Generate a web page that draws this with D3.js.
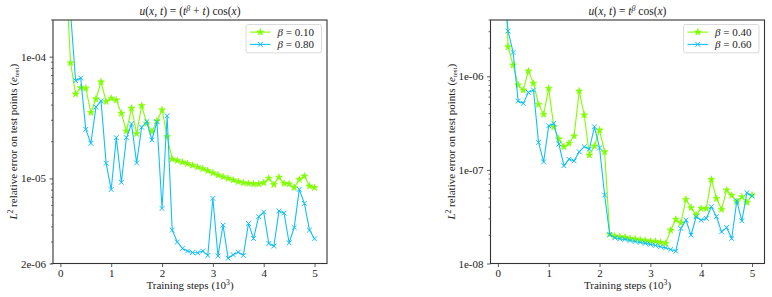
<!DOCTYPE html>
<html>
<head>
<meta charset="utf-8">
<script src="https://cdn.jsdelivr.net/npm/d3@7"></script>
<style>
  body { margin: 0; background: #fff; }
  svg { display: block; }
  text { font-family: "Liberation Serif", "DejaVu Serif", serif; fill: #222; }
</style>
</head>
<body>
<svg id="chart" width="772" height="297"></svg>
<script>
// ---- data ----
const steps = [0.1,0.2,0.3,0.4,0.5,0.6,0.7,0.8,0.9,1.0,
               1.1,1.2,1.3,1.4,1.5,1.6,1.7,1.8,1.9,2.0,
               2.1,2.2,2.3,2.4,2.5,2.6,2.7,2.8,2.9,3.0,
               3.1,3.2,3.3,3.4,3.5,3.6,3.7,3.8,3.9,4.0,
               4.1,4.2,4.3,4.4,4.5,4.6,4.7,4.8,4.9,5.0];
const xTicks = [0, 1, 2, 3, 4, 5];

// left panel: u = (t^beta + t) cos(x)
const leftBeta010 = [5.8e-4,8.9e-5,4.93e-5,5.56e-5,5.5e-5,3.47e-5,4.49e-5,6.2e-5,4.27e-5,4.55e-5,
                     4.4e-5,3.42e-5,2.45e-5,3.77e-5,2.33e-5,3.96e-5,2.83e-5,2.42e-5,2.96e-5,3.65e-5,
                     2.2e-5,1.44e-5,1.40e-5,1.36e-5,1.32e-5,1.28e-5,1.24e-5,1.20e-5,1.156e-5,1.11e-5,
                     1.065e-5,1.03e-5,1.0e-5,9.7e-6,9.4e-6,9.2e-6,9.1e-6,9.0e-6,9.0e-6,9.2e-6,
                     1.0e-5,8.9e-6,1.02e-5,9.1e-6,9.0e-6,8.4e-6,9.8e-6,1.045e-5,8.65e-6,8.4e-6];
const leftBeta080 = [6e-4,2.3e-4,6.35e-5,6.68e-5,2.53e-5,1.94e-5,3.85e-5,4.33e-5,1.33e-5,8.1e-6,
                     2.16e-5,9.3e-6,2.16e-5,2.8e-5,1.34e-5,2.63e-5,2.92e-5,2.07e-5,2.92e-5,5.66e-6,
                     3.27e-5,3.76e-6,3.0e-6,2.66e-6,2.53e-6,2.46e-6,2.45e-6,2.53e-6,2.33e-6,6.85e-6,
                     2.30e-6,4.13e-6,2.21e-6,2.36e-6,2.48e-6,2.33e-6,4.27e-6,3.21e-6,4.84e-6,5.29e-6,
                     2.92e-6,2.78e-6,5.39e-6,5.19e-6,2.96e-6,3.95e-6,8.12e-6,6.23e-6,3.76e-6,3.19e-6];
const leftYTicks = [2e-6, 1e-5, 1e-4];
const leftYTickLabels = ["2e-06", "1e-05", "1e-04"];
const leftYDomain = [2e-6, 2e-4];

// right panel: u = t^beta cos(x)
const rightBeta040 = [5e-5,2.07e-6,1.32e-6,8.07e-7,7.14e-7,1.14e-6,8.41e-7,5.01e-7,3.92e-7,7.43e-7,
                      2.89e-7,2.14e-7,1.77e-7,1.92e-7,2.30e-7,6.96e-7,3.86e-7,1.44e-7,1.80e-7,2.67e-7,
                      1.56e-7,2.05e-8,1.96e-8,1.93e-8,1.90e-8,1.85e-8,1.82e-8,1.79e-8,1.76e-8,1.73e-8,
                      1.72e-8,1.68e-8,1.64e-8,2.27e-8,2.96e-8,2.72e-8,4.84e-8,3.94e-8,3.3e-8,3.87e-8,
                      3.87e-8,7.91e-8,4.95e-8,3.78e-8,6.08e-8,5.34e-8,4.57e-8,5.16e-8,4.49e-8,5.38e-8];
const rightBeta060 = [1.4e-5,3.05e-6,1.80e-6,5.44e-7,5.14e-7,6.74e-7,7.14e-7,1.97e-7,1.22e-7,2.96e-7,
                      3.14e-7,1.89e-7,1.11e-7,1.30e-7,1.25e-7,1.56e-7,1.77e-7,1.67e-7,2.89e-7,1.72e-7,
                      5.38e-8,2.04e-8,1.88e-8,1.84e-8,1.81e-8,1.76e-8,1.72e-8,1.68e-8,1.64e-8,1.60e-8,
                      1.56e-8,1.51e-8,1.47e-8,1.41e-8,1.355e-8,2.37e-8,2.91e-8,2.01e-8,3.16e-8,2.91e-8,
                      3.03e-8,4.04e-8,3.16e-8,2.18e-8,2.43e-8,1.85e-8,4.68e-8,2.86e-8,5.70e-8,5.25e-8];
const rightYTicks = [1e-8, 1e-7, 1e-6];
const rightYTickLabels = ["1e-08", "1e-07", "1e-06"];
const rightYDomain = [1e-8, 4e-6];

const GREEN = "#7fff00";
const BLUE = "#12c0f7";

// ---- drawing ----
const svg = d3.select("#chart");
const FS = 11;
const FONT = "Liberation Serif";

function drawPanel(cfg) {
  const {x0, x1, y0, y1} = cfg;
  const g = svg.append("g");
  const x = d3.scaleLinear().domain([-0.145, 5.245]).range([x0, x1]);
  const y = d3.scaleLog().domain(cfg.yDomain).range([y1, y0]);

  const clipId = "clip" + cfg.id;
  svg.append("clipPath").attr("id", clipId)
    .append("rect").attr("x", x0).attr("y", y0).attr("width", x1 - x0).attr("height", y1 - y0);

  // minor y ticks
  const [lo, hi] = cfg.yDomain;
  const minor = [];
  for (let e = Math.floor(Math.log10(lo)); e <= Math.ceil(Math.log10(hi)); e++) {
    for (let m = 2; m < 10; m++) {
      const v = m * Math.pow(10, e);
      if (v >= lo * 0.9999 && v <= hi * 1.0001) minor.push(v);
    }
  }
  g.selectAll(".minor").data(minor).join("line")
    .attr("x1", x0 - 2).attr("x2", x0)
    .attr("y1", d => y(d)).attr("y2", d => y(d))
    .attr("stroke", "#333").attr("stroke-width", 0.7);

  // y axis
  const yAxis = d3.axisLeft(y).tickValues(cfg.yTicks)
    .tickFormat((d, i) => cfg.yTickLabels[i]).tickSize(3.5).tickPadding(3.5);
  const ya = g.append("g").attr("transform", `translate(${x0},0)`).call(yAxis);
  ya.attr("font-family", FONT);
  ya.select(".domain").remove();
  ya.selectAll("line").attr("stroke", "#333").attr("stroke-width", 0.8);
  ya.selectAll("text").attr("font-size", FS).attr("fill", "#222");

  // x axis
  const xAxis = d3.axisBottom(x).tickValues(xTicks).tickFormat(d3.format("d")).tickSize(3.5).tickPadding(2.5);
  const xa = g.append("g").attr("transform", `translate(0,${y1})`).call(xAxis);
  xa.attr("font-family", FONT);
  xa.select(".domain").remove();
  xa.selectAll("line").attr("stroke", "#333").attr("stroke-width", 0.8);
  xa.selectAll("text").attr("font-size", FS).attr("fill", "#222");

  // series
  const series = [
    {vals: cfg.s1, color: GREEN, marker: "star", label: cfg.l1},
    {vals: cfg.s2, color: BLUE, marker: "x", label: cfg.l2}
  ];
  const line = d3.line().x(d => x(d[0])).y(d => y(d[1]));
  const plot = g.append("g").attr("clip-path", `url(#${clipId})`);
  const starPath = d3.symbol().type(d3.symbolStar).size(15)();
  function drawMarker(sel, type, color) {
    if (type === "star") {
      sel.append("path").attr("d", starPath).attr("fill", color).attr("stroke", color).attr("stroke-width", 0.6);
    } else {
      const r = 2.4;
      sel.append("path").attr("d", `M${-r},${-r}L${r},${r}M${-r},${r}L${r},${-r}`)
        .attr("stroke", color).attr("stroke-width", 1.0).attr("fill", "none");
    }
  }
  series.forEach(s => {
    const pts = steps.map((t, i) => [t, s.vals[i]]);
    plot.append("path").datum(pts).attr("d", line)
      .attr("fill", "none").attr("stroke", s.color).attr("stroke-width", 1.1);
    plot.selectAll(null).data(pts).join("g")
      .attr("transform", d => `translate(${x(d[0])},${y(d[1])})`)
      .each(function() { drawMarker(d3.select(this), s.marker, s.color); });
  });

  // frame
  g.append("rect").attr("x", x0).attr("y", y0).attr("width", x1 - x0).attr("height", y1 - y0)
    .attr("fill", "none").attr("stroke", "#333").attr("stroke-width", 1.1);

  // title
  const t = g.append("text").attr("x", (x0 + x1) / 2).attr("y", 15)
    .attr("text-anchor", "middle").attr("font-size", FS + 0.5);
  cfg.title(t);

  // x label
  const xl = g.append("text").attr("x", (x0 + x1) / 2).attr("y", 289)
    .attr("text-anchor", "middle").attr("font-size", FS);
  xl.append("tspan").text("Training steps (10");
  xl.append("tspan").attr("font-size", FS * 0.7).attr("dy", -4).text("3");
  xl.append("tspan").attr("dy", 4).text(")");

  // y label
  const yl = g.append("text")
    .attr("transform", `translate(${cfg.ylx},${(y0 + y1) / 2}) rotate(-90)`)
    .attr("text-anchor", "middle").attr("font-size", FS);
  yl.append("tspan").attr("font-style", "italic").text("L");
  yl.append("tspan").attr("font-size", FS * 0.7).attr("dy", -4).text("2");
  yl.append("tspan").attr("dy", 4).text(" relative error on test points (");
  yl.append("tspan").attr("font-style", "italic").text("e");
  yl.append("tspan").attr("font-size", FS * 0.62).attr("dy", 2).text("test");
  yl.append("tspan").attr("dy", -2).text(")");

  // legend
  const lg = g.append("g").attr("transform", `translate(${cfg.legX},${y0 + 4.5})`);
  lg.append("rect").attr("width", 75.5).attr("height", 28.3).attr("rx", 2)
    .attr("fill", "#fff").attr("fill-opacity", 0.8).attr("stroke", "#d0d0d0").attr("stroke-width", 0.8);
  series.forEach((s, i) => {
    const yy = 7.6 + i * 12.3;
    lg.append("line").attr("x1", 4).attr("x2", 24.5).attr("y1", yy).attr("y2", yy)
      .attr("stroke", s.color).attr("stroke-width", 1.1);
    const mg = lg.append("g").attr("transform", `translate(14.3,${yy})`);
    drawMarker(mg, s.marker, s.color);
    const tx = lg.append("text").attr("x", 31.5).attr("y", yy + 3.6).attr("font-size", FS);
    tx.append("tspan").attr("font-style", "italic").text("β");
    tx.append("tspan").text(" = " + s.label);
  });
}

function mathTitleLeft(t) {
  t.append("tspan").attr("font-style", "italic").text("u");
  t.append("tspan").text("(");
  t.append("tspan").attr("font-style", "italic").text("x, t");
  t.append("tspan").text(") = (");
  t.append("tspan").attr("font-style", "italic").text("t");
  t.append("tspan").attr("font-style", "italic").attr("font-size", 8).attr("dy", -4).text("β");
  t.append("tspan").attr("dy", 4).text(" + ");
  t.append("tspan").attr("font-style", "italic").text("t");
  t.append("tspan").text(") cos(");
  t.append("tspan").attr("font-style", "italic").text("x");
  t.append("tspan").text(")");
}
function mathTitleRight(t) {
  t.append("tspan").attr("font-style", "italic").text("u");
  t.append("tspan").text("(");
  t.append("tspan").attr("font-style", "italic").text("x, t");
  t.append("tspan").text(")  =  ");
  t.append("tspan").attr("font-style", "italic").text("t");
  t.append("tspan").attr("font-style", "italic").attr("font-size", 8).attr("dy", -4).text("β");
  t.append("tspan").attr("dy", 4).text("  cos(");
  t.append("tspan").attr("font-style", "italic").text("x");
  t.append("tspan").text(")");
}

drawPanel({id: "L", x0: 53, x1: 327, y0: 20, y1: 263.5,
  yDomain: leftYDomain, yTicks: leftYTicks, yTickLabels: leftYTickLabels,
  s1: leftBeta010, s2: leftBeta080, l1: "0.10", l2: "0.80",
  title: mathTitleLeft, ylx: 16.5, legX: 246});
drawPanel({id: "R", x0: 490.5, x1: 764.5, y0: 20, y1: 263.5,
  yDomain: rightYDomain, yTicks: rightYTicks, yTickLabels: rightYTickLabels,
  s1: rightBeta040, s2: rightBeta060, l1: "0.40", l2: "0.60",
  title: mathTitleRight, ylx: 454.5, legX: 683.5});
</script>
</body>
</html>
